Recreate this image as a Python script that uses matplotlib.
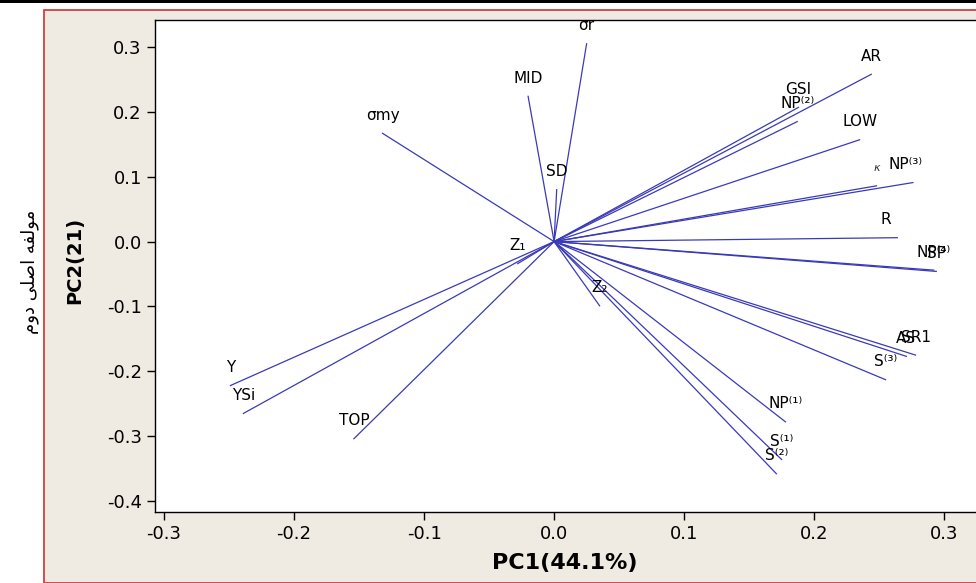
import matplotlib.pyplot as plt
from matplotlib.patches import Rectangle

# loading vectors (PC1, PC2)
names = ["σr", "MID", "SD", "σmy", "Z₁", "Z₂", "AR", "GSI", "NP⁽²⁾", "LOW",
         "κ", "NP⁽³⁾", "R", "SP", "NP⁽⁴⁾", "AS", "SR1", "S⁽³⁾", "NP⁽¹⁾",
         "S⁽¹⁾", "S⁽²⁾", "Y", "YSi", "TOP"]
pc1 = [0.025, -0.020, 0.002, -0.132, -0.028, 0.035, 0.244, 0.188, 0.187, 0.235,
       0.248, 0.276, 0.264, 0.294, 0.292, 0.271, 0.278, 0.255, 0.178,
       0.175, 0.171, -0.249, -0.239, -0.154]
pc2 = [0.305, 0.224, 0.080, 0.167, -0.034, -0.099, 0.258, 0.207, 0.185, 0.157,
       0.086, 0.091, 0.006, -0.046, -0.044, -0.177, -0.175, -0.213, -0.278,
       -0.336, -0.358, -0.222, -0.265, -0.304]

xticks = [-0.3, -0.2, -0.1, 0.0, 0.1, 0.2, 0.3]
yticks = [0.3, 0.2, 0.1, 0.0, -0.1, -0.2, -0.3, -0.4]

# a few labels sit left of their vector tips
nudge = {"R": -8, "NP⁽³⁾": -5}

beige = "#efebe2"
fig = plt.figure(figsize=(9.76, 5.83), dpi=100)
fig.patch.set_facecolor("white")
# framed panel and black strip at the top, like the screenshot
fig.patches.append(Rectangle((44/976, 0), 1, 573/583, transform=fig.transFigure,
                             facecolor=beige, edgecolor="#d03030", lw=1.2,
                             zorder=-10))
fig.patches.append(Rectangle((0, 580/583), 1, 3/583, transform=fig.transFigure,
                             facecolor="black", edgecolor="none", zorder=-10))

# axes runs past the right edge of the picture, as in the cropped screenshot
ax = fig.add_axes([155/976, 71/583, 880/976, 492/583])
ax.set_facecolor("white")
ax.patch.set_edgecolor("none")
ax.set_xlim(-0.307, -0.307 + 880/1300)
ax.set_ylim(-0.417, 0.3417)

for name, x, y in zip(names, pc1, pc2):
    ax.plot([0, x], [0, y], color="#3a3ab8", lw=0.9)
    off = (nudge.get(name, 0), 13)
    if name == "κ":
        ax.annotate(name, (x, y), xytext=off, textcoords="offset points",
                    ha="center", va="center", fontsize=8, style="italic",
                    color="#333333")
    else:
        ax.annotate(name, (x, y), xytext=off, textcoords="offset points",
                    ha="center", va="center", fontsize=11, color="black")

ax.set_xticks(xticks)
ax.set_xticklabels([f"{t:.1f}" for t in xticks], fontsize=13)
ax.set_yticks(yticks)
ax.set_yticklabels([f"{t:.1f}" for t in yticks], fontsize=13)
ax.tick_params(direction="out", length=6, width=1, color="black")
for s in ax.spines.values():
    s.set_color("black")
    s.set_linewidth(1)
ax.spines["right"].set_visible(False)

fig.text(565/976, 20/583, "PC1(44.1%)", ha="center", va="center",
         fontsize=16, fontweight="bold")
fig.text(75/976, 323/583, "PC2(21)", ha="center", va="center", rotation=90,
         fontsize=14, fontweight="bold")
# Persian label, pre-shaped glyphs in visual order
fa = "\uFEE1\uFEED\uFEA9 \uFEF0\uFEE0\uFEBB\uFE8D \uFEEA\uFED4\uFEDF\uFEEE\uFEE3"
fig.text(30/976, 311/583, fa, ha="center", va="center", rotation=90,
         fontsize=13, family=["DejaVu Sans"])

fig.savefig("out.png", dpi=100, facecolor=fig.get_facecolor())
